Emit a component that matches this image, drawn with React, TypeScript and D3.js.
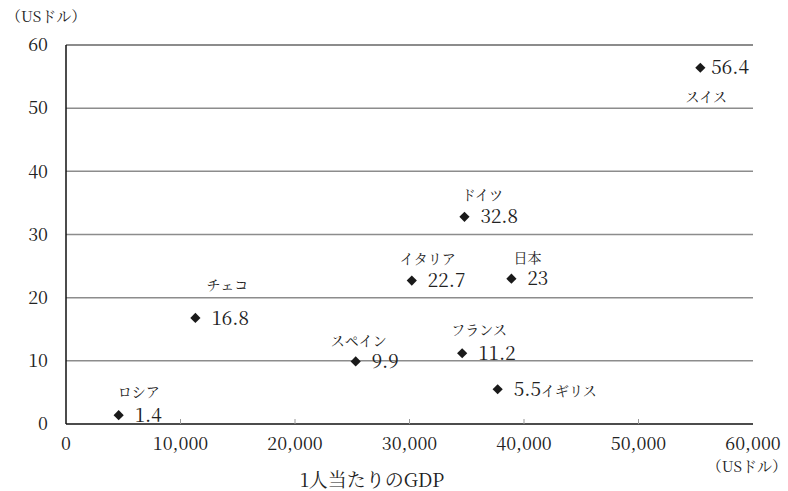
import * as d3 from "d3";

// per-capita GDP (US$) vs. value (US$)
const countries = ["ロシア", "チェコ", "スペイン", "イタリア", "ドイツ", "日本", "フランス", "イギリス", "スイス"];
const gdp = [4600, 11300, 25300, 30200, 34800, 38900, 34600, 37700, 55400];
const values = [1.4, 16.8, 9.9, 22.7, 32.8, 23, 11.2, 5.5, 56.4];

const xTicks = [0, 10000, 20000, 30000, 40000, 50000, 60000];
const yTicks = [0, 10, 20, 30, 40, 50, 60];

// where each country name sits relative to its marker
const nameOffsets: ([number, number] | null)[] = [
  [20, -23], [32, -33], [3, -20], [16, -22], [18, -22], [16, -21], [17, -23], null, [6, 29],
];

const W = 788;
const H = 491;
const margin = { top: 45, right: 35, bottom: 67, left: 66 };
const font = "Noto Serif CJK JP";

export default function App() {
  const x = d3.scaleLinear().domain([0, 60000]).range([margin.left, W - margin.right]);
  const y = d3.scaleLinear().domain([0, 60]).range([H - margin.bottom, margin.top]);
  const diamond = d3.symbol().type(d3.symbolSquare).size(52)();
  const fmt = d3.format(",");

  return (
    <svg width={W} height={H} style={{ position: "absolute", left: 0, top: 0 }}>
      <rect width={W} height={H} fill="white" />

      {/* grid */}
      {yTicks.slice(1).map((t) => (
        <line key={t} x1={x(0)} x2={x(60000)} y1={y(t)} y2={y(t)} stroke="#8c8c8c" strokeWidth={t === 60 ? 2 : 1.5} />
      ))}

      {/* axes */}
      <line x1={x(0)} x2={x(60000)} y1={y(0)} y2={y(0)} stroke="#111" strokeWidth={1.5} />
      <line x1={x(0)} x2={x(0)} y1={y(0)} y2={y(60)} stroke="#111" strokeWidth={1.5} />
      {xTicks.slice(1, -1).map((t) => (
        <line key={t} x1={x(t)} x2={x(t)} y1={y(0)} y2={y(0) - 5} stroke="#999" strokeWidth={1} />
      ))}

      {yTicks.map((t) => (
        <text key={t} x={48} y={y(t)} dy="0.35em" textAnchor="end" fontSize={18} fontFamily={font} fill="#222">
          {t}
        </text>
      ))}
      {xTicks.map((t) => (
        <text key={t} x={x(t)} y={y(0) + 20} dy="0.35em" textAnchor="middle" fontSize={18} fontFamily={font} fill="#222">
          {fmt(t)}
        </text>
      ))}

      <text x={6} y={17} dy="0.35em" fontSize={15} fontFamily={font} fill="#222">（USドル）</text>
      <text x={787} y={467} dy="0.35em" textAnchor="end" fontSize={15} fontFamily={font} fill="#222">（USドル）</text>
      <text x={372} y={480} dy="0.35em" textAnchor="middle" fontSize={19} fontFamily={font} fill="#222">1人当たりのGDP</text>

      {/* points */}
      {countries.map((c, i) => {
        const px = x(gdp[i]);
        const py = y(values[i]);
        const off = nameOffsets[i];
        const gap = c === "スイス" ? 11 : 16;
        return (
          <g key={c}>
            <path d={diamond ?? ""} transform={`translate(${px},${py}) rotate(45)`} fill="#1a1a1a" />
            <text x={px + gap} y={py} dy="0.35em" fontSize={19} fontFamily={font} fill="#222">
              {values[i]}
              {off === null && <tspan fontSize={14}>{c}</tspan>}
            </text>
            {off && (
              <text x={px + off[0]} y={py + off[1]} dy="0.35em" textAnchor="middle" fontSize={14} fontFamily={font} fill="#222">
                {c}
              </text>
            )}
          </g>
        );
      })}
    </svg>
  );
}
